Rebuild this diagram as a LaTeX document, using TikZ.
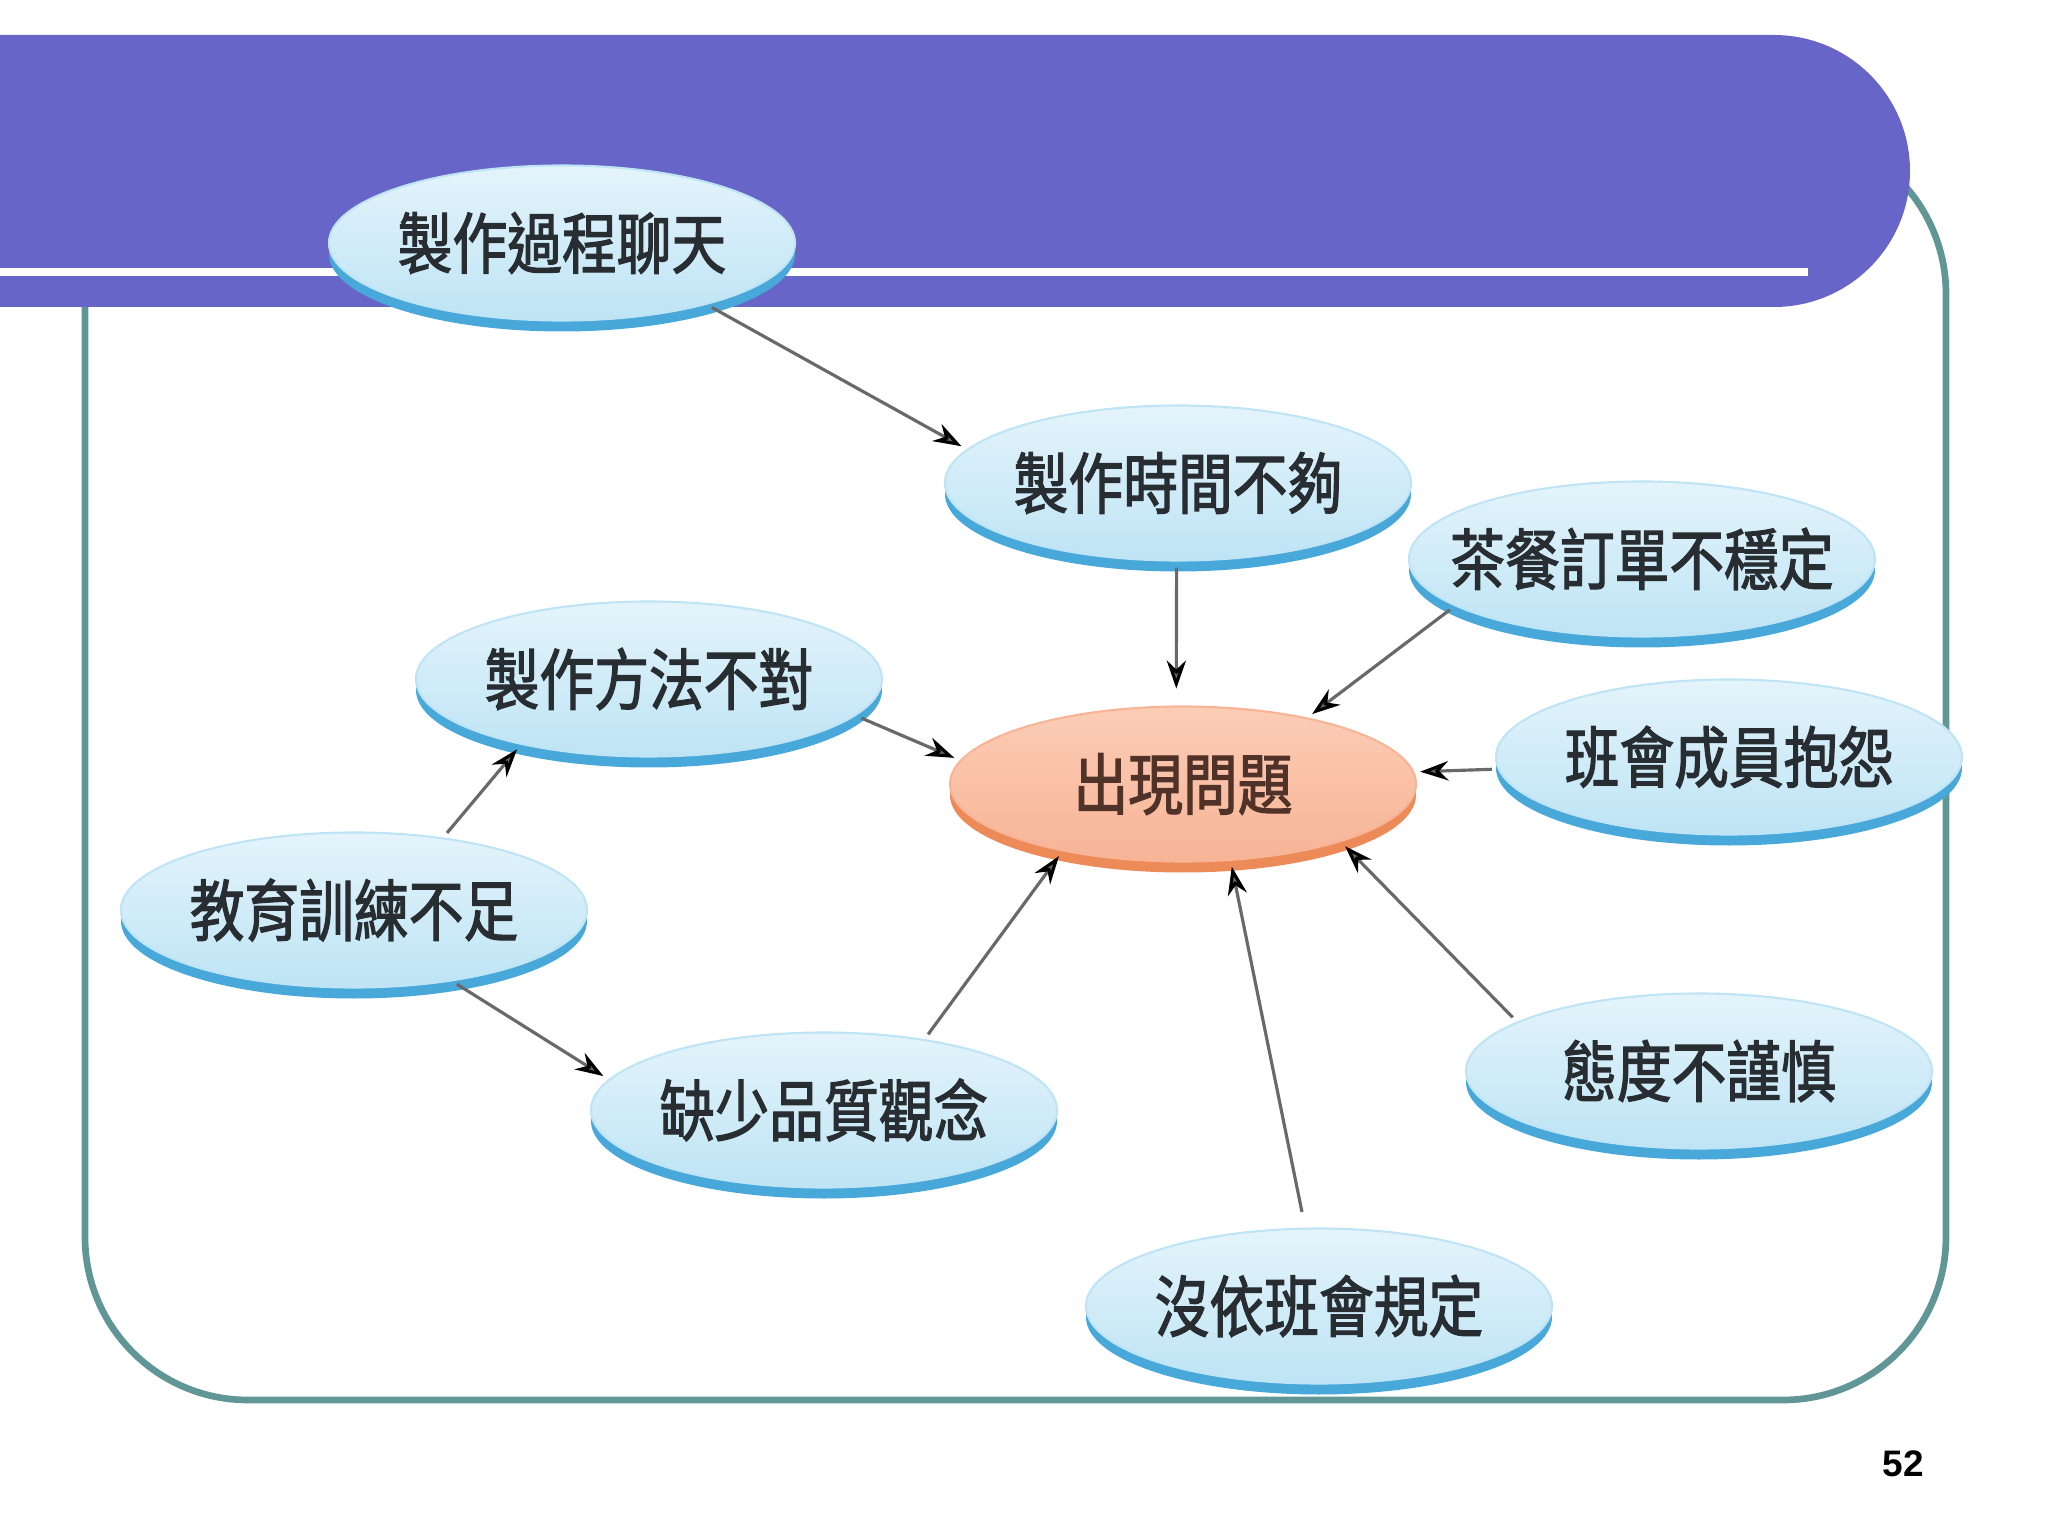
\documentclass[tikz,border=0pt]{standalone}
\usepackage{fontspec}
\usepackage{tikz}
\usetikzlibrary{shapes.geometric,shadows,arrows.meta}
\setsansfont{Liberation Sans}
\newfontfamily\cjk{Noto Sans CJK TC}[FakeStretch=0.82,FakeBold=1.8]

\definecolor{bannerblue}{RGB}{103,102,200}
\definecolor{frameteal}{RGB}{96,150,150}
\definecolor{bubtop}{RGB}{228,244,251}
\definecolor{bubbot}{RGB}{190,228,245}
\definecolor{bubedge}{RGB}{72,168,218}
\definecolor{hottop}{RGB}{252,205,182}
\definecolor{hotbot}{RGB}{247,180,150}
\definecolor{hotedge}{RGB}{236,138,88}
\definecolor{linkgray}{RGB}{105,105,105}
\definecolor{textgray}{RGB}{40,45,50}
\definecolor{textbrown}{RGB}{80,50,40}

\begin{document}
\begin{tikzpicture}[>={Stealth[length=8pt,width=5.5pt,black]},
  blob/.style={ellipse, minimum width=4.66cm, minimum height=1.55cm,
    inner xsep=-1cm, inner ysep=0pt, outer sep=0pt, line width=0.6pt,
    font=\cjk\fontsize{19}{21}\selectfont},
  bubble/.style={blob, top color=bubtop, bottom color=bubbot, draw=bubbot,
    general shadow={fill=bubedge, shadow yshift=-0.11cm},
    text=textgray},
  problem/.style={blob, top color=hottop, bottom color=hotbot, draw=hotbot,
    general shadow={fill=hotedge, shadow yshift=-0.11cm},
    text=textbrown},
  cause/.style={->, color=linkgray, line width=0.9pt, shorten >=2pt, shorten <=2pt}]

  \useasboundingbox (0,0) rectangle (20.48,-15.36);

  % 外框与标题条
  \draw[frameteal, line width=1.9pt, rounded corners=1.63cm] (0.85,-1.31) rectangle (19.46,-14.00);
  \fill[bannerblue] (0,-0.35) -- (17.74,-0.35) arc[start angle=90, end angle=0, radius=1.36]
    arc[start angle=0, end angle=-90, radius=1.36] -- (0,-3.07) -- cycle;
  \fill[white] (0,-2.68) rectangle (18.08,-2.76);

  % 原因与问题
  \node[bubble]  (n1)  at (5.62,-2.43)   {製作過程聊天};
  \node[bubble]  (n2)  at (11.78,-4.83)  {製作時間不夠};
  \node[bubble]  (n3)  at (16.42,-5.59)  {茶餐訂單不穩定};
  \node[bubble]  (n4)  at (6.49,-6.79)   {製作方法不對};
  \node[problem] (c)   at (11.83,-7.84)  {出現問題};
  \node[bubble]  (n6)  at (17.29,-7.57)  {班會成員抱怨};
  \node[bubble]  (n7)  at (3.54,-9.10)   {教育訓練不足};
  \node[bubble]  (n8)  at (16.99,-10.71) {態度不謹慎};
  \node[bubble]  (n9)  at (8.24,-11.10)  {缺少品質觀念};
  \node[bubble]  (n10) at (13.19,-13.06) {沒依班會規定};

  \path[cause] (n1.-23)  edge (n2.171)
        (n2.-91)  edge [shorten >=0.18cm] (c.95)
        (n3.194)  edge (c.28)
        (n4.-10)  edge (c.174)
        (n6.183)  edge (c.3.5)
        (n7.39)   edge (n4.207)
        (n7.-36)  edge (n9.172)
        (n9.35)   edge (c.209)
        (n10.100) edge [shorten <=0.17cm] (c.-58)
        (n8.165)  edge (c.-20);

  \node (pg) at (19.03,-14.64) {\sffamily\bfseries\fontsize{10.5}{12}\selectfont 52};
\end{tikzpicture}
\end{document}
